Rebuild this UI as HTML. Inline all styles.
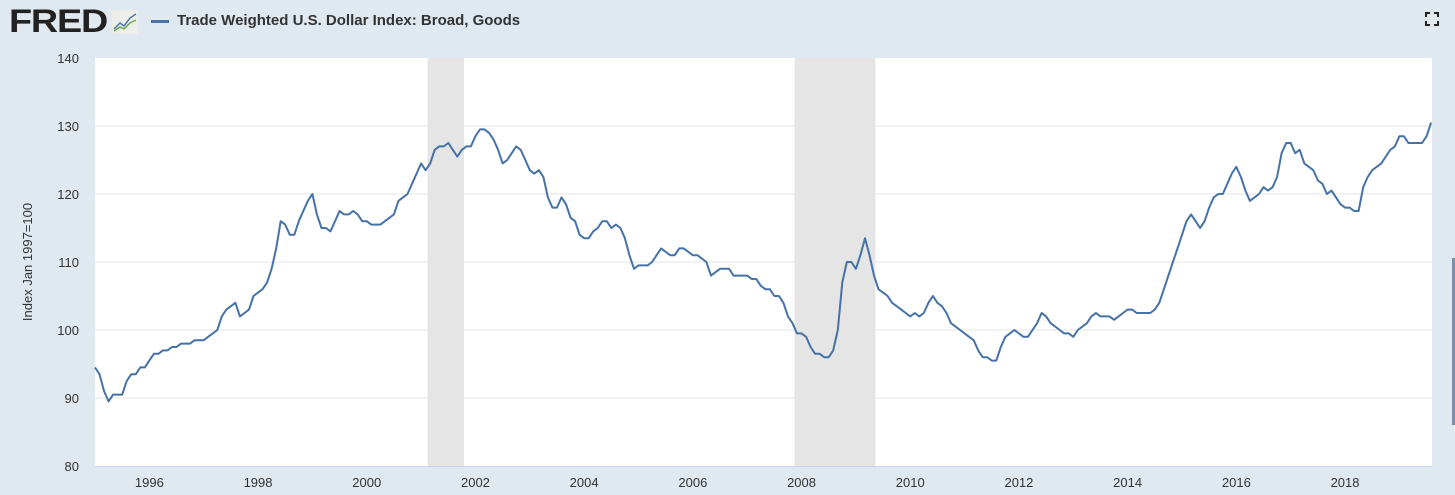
<!DOCTYPE html>
<html><head><meta charset="utf-8"><style>
body{margin:0;width:1455px;height:495px;background:#e1e9f0;font-family:"Liberation Sans",sans-serif;overflow:hidden;position:relative}
</style></head><body>
<div style="position:absolute;left:9px;top:3px;font:900 32px 'Liberation Sans',sans-serif;color:#222;letter-spacing:-1px;transform:scaleX(1.18);transform-origin:left top">FRED</div>
<svg style="position:absolute;left:112px;top:10px" width="26" height="24"><rect width="26" height="24" fill="#eceeea" rx="2"/><polyline points="2,19 8,13 12,16 18,8 24,4" fill="none" stroke="#4a78a8" stroke-width="1.5"/><polyline points="2,21 8,17 12,19 18,13 24,10" fill="none" stroke="#6aa84f" stroke-width="1.5"/></svg>
<div style="position:absolute;left:151px;top:12px;font:bold 15px 'Liberation Sans',sans-serif;color:#333"><span style="display:inline-block;width:18px;height:3px;background:#4572a7;vertical-align:middle;margin-right:8px"></span>Trade Weighted U.S. Dollar Index: Broad, Goods</div>
<svg style="position:absolute;left:1425px;top:12px" width="14" height="14"><path d="M1,5V1H5M9,1H13V5M13,9V13H9M5,13H1V9" fill="none" stroke="#222" stroke-width="2"/></svg>
<div style="position:absolute;left:1452px;top:258px;width:3px;height:167px;background:#7a8fa8"></div>
<svg id="chart" style="position:absolute;left:0;top:0" width="1455" height="495"></svg>
<script>
const yTicks=[80,90,100,110,120,130,140];
const xTickYears=[1996,1998,2000,2002,2004,2006,2008,2010,2012,2014,2016,2018];
const recessions=[[2001.12,2001.79],[2007.87,2009.36]];
const startYear=1995;
const values=[
94.5,93.5,91,89.5,90.5,90.5,90.5,92.5,93.5,93.5,94.5,94.5,
95.5,96.5,96.5,97,97,97.5,97.5,98,98,98,98.5,98.5,
98.5,99,99.5,100,102,103,103.5,104,102,102.5,103,105,
105.5,106,107,109,112,116,115.5,114,114,116,117.5,119,
120,117,115,115,114.5,116,117.5,117,117,117.5,117,116,
116,115.5,115.5,115.5,116,116.5,117,119,119.5,120,121.5,123,
124.5,123.5,124.5,126.5,127,127,127.5,126.5,125.5,126.5,127,127,
128.5,129.5,129.5,129,128,126.5,124.5,125,126,127,126.5,125,
123.5,123,123.5,122.5,119.5,118,118,119.5,118.5,116.5,116,114,
113.5,113.5,114.5,115,116,116,115,115.5,115,113.5,111,109,
109.5,109.5,109.5,110,111,112,111.5,111,111,112,112,111.5,
111,111,110.5,110,108,108.5,109,109,109,108,108,108,
108,107.5,107.5,106.5,106,106,105,105,104,102,101,99.5,
99.5,99,97.5,96.5,96.5,96,96,97,100,107,110,110,
109,111,113.5,111,108,106,105.5,105,104,103.5,103,102.5,
102,102.5,102,102.5,104,105,104,103.5,102.5,101,100.5,100,
99.5,99,98.5,97,96,96,95.5,95.5,97.5,99,99.5,100,
99.5,99,99,100,101,102.5,102,101,100.5,100,99.5,99.5,
99,100,100.5,101,102,102.5,102,102,102,101.5,102,102.5,
103,103,102.5,102.5,102.5,102.5,103,104,106,108,110,112,
114,116,117,116,115,116,118,119.5,120,120,121.5,123,
124,122.5,120.5,119,119.5,120,121,120.5,121,122.5,126,127.5,
127.5,126,126.5,124.5,124,123.5,122,121.5,120,120.5,119.5,118.5,
118,118,117.5,117.5,121,122.5,123.5,124,124.5,125.5,126.5,127,
128.5,128.5,127.5,127.5,127.5,127.5,128.5,130.5];
const L=95,R=1432,T=58,B=466,x0=1995.0,x1=2019.6;
const X=t=>L+(t-x0)/(x1-x0)*(R-L);
const Y=v=>B-(v-80)/60*(B-T);
const svg=document.getElementById('chart');const NS='http://www.w3.org/2000/svg';
function mk(tag,a,p){const e=document.createElementNS(NS,tag);for(const k in a)e.setAttribute(k,a[k]);(p||svg).appendChild(e);return e;}
const bg=mk('rect',{x:L,y:T,width:R-L,height:B-T,fill:'#fff'});


recessions.forEach(r=>{const e=mk('rect',{x:X(r[0]),y:T,width:X(r[1])-X(r[0]),height:B-T,fill:'#e5e5e5'});

});
yTicks.forEach(v=>{
if(v>80&&v<140){const g=mk('line',{x1:L,x2:R,y1:Y(v),y2:Y(v),stroke:'#e6e6e6','stroke-width':1});

}
const t=mk('text',{x:79,y:Y(v)+5,'text-anchor':'end','font-size':13,fill:'#333','font-family':'Liberation Sans, sans-serif'});t.textContent=v;

});
xTickYears.forEach(yr=>{const t=mk('text',{x:X(yr),y:487,'text-anchor':'middle','font-size':13,fill:'#333','font-family':'Liberation Sans, sans-serif'});t.textContent=yr;

});
const ax=mk('line',{x1:L,x2:R,y1:B+0.5,y2:B+0.5,stroke:'#ccd6eb'});


const yt=mk('text',{x:0,y:0,transform:'translate(32,262) rotate(-90)','text-anchor':'middle','font-size':13,fill:'#333','font-family':'Liberation Sans, sans-serif'});yt.textContent='Index Jan 1997=100';


const pts=values.map((v,i)=>X(startYear+i/12).toFixed(1)+','+Y(v).toFixed(1)).join(' ');
const ln=mk('polyline',{points:pts,fill:'none',stroke:'#4572a7','stroke-width':2,'stroke-linejoin':'round'});


</script>
</body></html>
